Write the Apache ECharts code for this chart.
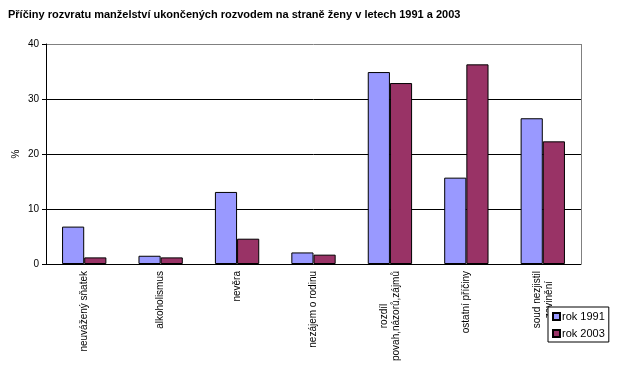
<!DOCTYPE html>
<html>
<head>
<meta charset="utf-8">
<script src="https://cdn.jsdelivr.net/npm/echarts@6/dist/echarts.min.js"></script>
<style>
  html, body { margin: 0; padding: 0; background: #fff; }
  #chart { width: 626px; height: 377px; }
</style>
</head>
<body>
<div id="chart"></div>
<script>
// kategorie (osa x)
var categories = [
  'neuvážený sňatek',
  'alkoholismus',
  'nevěra',
  'nezájem o rodinu',
  'rozdíl\npovah,názorů,zájmů',
  'ostatní příčiny',
  'soud nezjistil\nzavinění'
];
var rok1991 = [6.8, 1.5, 13.1, 2.1, 34.9, 15.7, 26.5];
var rok2003 = [1.2, 1.2, 4.6, 1.7, 32.9, 36.3, 22.3];
var yTicks = [0, 10, 20, 30, 40];

var chart = echarts.init(document.getElementById('chart'));

chart.setOption({
  backgroundColor: '#fff',
  animation: false,
  title: {
    text: 'Příčiny rozvratu manželství ukončených rozvodem na straně ženy v letech 1991 a 2003',
    left: 3,
    top: 4,
    textStyle: {
      fontFamily: '"Liberation Sans", Arial, sans-serif',
      fontSize: 11,
      fontWeight: 'bold',
      color: '#000'
    }
  },
  legend: {
    orient: 'vertical',
    left: 548,
    top: 307,
    padding: [4, 4, 3, 4],
    itemGap: 6,
    itemWidth: 7,
    itemHeight: 7,
    icon: 'rect',
    borderColor: '#000',
    borderWidth: 1,
    backgroundColor: '#fff',
    textStyle: { fontFamily: '"Liberation Sans", Arial, sans-serif', fontSize: 11, color: '#000', padding: [0, 0, 0, -3] },
    data: ['rok 1991', 'rok 2003']
  },
  grid: { left: 46, right: 45, top: 44, bottom: 113, show: false },
  xAxis: {
    type: 'category',
    data: categories,
    axisLine: { lineStyle: { color: '#000', width: 1 } },
    axisTick: { length: 4, lineStyle: { color: '#000' } },
    axisLabel: {
      interval: 0,
      rotate: 90,
      margin: 7,
      fontSize: 10,
      color: '#000',
      fontFamily: '"Liberation Sans", Arial, sans-serif',
      formatter: function (v) {
        return v.split('\n').map(function (s) { return '{c|' + s + '}'; }).join('\n');
      },
      rich: {
        c: { align: 'center', fontSize: 10, lineHeight: 12, color: '#000', fontFamily: '"Liberation Sans", Arial, sans-serif' }
      }
    }
  },
  yAxis: {
    type: 'value',
    min: yTicks[0],
    max: yTicks[yTicks.length - 1],
    interval: 10,
    name: '%',
    nameLocation: 'middle',
    nameRotate: 90,
    nameGap: 25,
    nameMoveOverlap: false,
    nameTextStyle: { fontSize: 10, color: '#000', fontFamily: '"Liberation Sans", Arial, sans-serif' },
    axisLine: { show: true, lineStyle: { color: '#000' } },
    axisTick: { show: true, length: 4, lineStyle: { color: '#000' } },
    axisLabel: { fontSize: 10, color: '#000', margin: 7, fontFamily: '"Liberation Sans", Arial, sans-serif' },
    splitLine: {
      show: true,
      lineStyle: {
        color: ['#000', '#000', '#000', '#000', '#808080'],
        width: 1
      }
    }
  },
  series: [
    {
      name: 'rok 1991',
      type: 'bar',
      data: rok1991,
      barGap: '0%',
      barCategoryGap: '42%',
      itemStyle: { color: '#9999FF', borderColor: '#000', borderWidth: 1 }
    },
    {
      name: 'rok 2003',
      type: 'bar',
      data: rok2003,
      itemStyle: { color: '#993366', borderColor: '#000', borderWidth: 1 }
    }
  ],
  graphic: [
    {
      // šedý pravý okraj plochy grafu
      type: 'line',
      shape: { x1: 581.5, y1: 44, x2: 581.5, y2: 264 },
      style: { stroke: '#808080', lineWidth: 1 }
    }
  ]
});
</script>
</body>
</html>
